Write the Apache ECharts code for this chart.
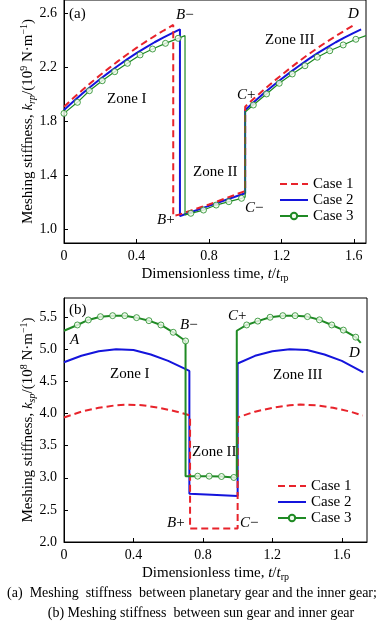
<!DOCTYPE html>
<html><head><meta charset="utf-8">
<script src="https://cdn.jsdelivr.net/npm/echarts@6/dist/echarts.min.js"></script>
<style>html,body{margin:0;padding:0;background:#fff}#c{width:384px;height:624px}</style>
</head><body><div id="c"></div>
<script>
// ---------- Panel (a): planetary gear / inner gear ----------
const aCase1T = [0,0.05,0.1,0.15,0.2,0.25,0.3,0.35,0.4,0.45,0.5,0.55,0.603, 0.603,0.64,0.7,0.8,0.9,1.0, 1.0,1.05,1.1,1.15,1.2,1.25,1.3,1.35,1.4,1.45,1.5,1.55,1.6];
const aCase1V = [1.910,1.972,2.031,2.089,2.144,2.197,2.249,2.298,2.345,2.390,2.433,2.474,2.515, 1.100,1.112,1.140,1.185,1.235,1.285, 1.910,1.972,2.031,2.089,2.144,2.197,2.249,2.298,2.345,2.390,2.433,2.474,2.515];
const aCase2T = [0,0.05,0.1,0.15,0.2,0.25,0.3,0.35,0.4,0.45,0.5,0.55,0.6,0.64, 0.64,0.7,0.8,0.9,1.0, 1.0,1.05,1.1,1.15,1.2,1.25,1.3,1.35,1.4,1.45,1.5,1.55,1.6,1.64];
const aCase2V = [1.885,1.946,2.005,2.061,2.115,2.166,2.215,2.262,2.306,2.347,2.387,2.423,2.457,2.483, 1.100,1.128,1.175,1.222,1.268, 1.885,1.946,2.005,2.061,2.115,2.166,2.215,2.262,2.306,2.347,2.387,2.423,2.457,2.483];
const aCase3T = [0,0.074,0.14,0.211,0.28,0.35,0.42,0.489,0.56,0.63,0.668, 0.668,0.70,0.77,0.84,0.91,0.98,1.0, 1.0,1.045,1.118,1.188,1.26,1.33,1.398,1.467,1.541,1.611,1.667];
const aCase3V = [1.860,1.942,2.028,2.102,2.169,2.231,2.293,2.337,2.379,2.416,2.436, 1.108,1.120,1.144,1.181,1.206,1.231,1.240, 1.870,1.922,2.004,2.083,2.152,2.213,2.276,2.324,2.367,2.409,2.436];
const aCase3MarkT = [0,0.074,0.14,0.211,0.28,0.35,0.42,0.489,0.56,0.63, 0.70,0.77,0.84,0.91,0.98, 1.045,1.118,1.188,1.26,1.33,1.398,1.467,1.541,1.611];
const aCase3MarkV = [1.860,1.942,2.028,2.102,2.169,2.231,2.293,2.337,2.379,2.416, 1.120,1.144,1.181,1.206,1.231, 1.922,2.004,2.083,2.152,2.213,2.276,2.324,2.367,2.409];
const aXTicks = [0,0.4,0.8,1.2,1.6];
const aYTicks = [1.0,1.4,1.8,2.2,2.6];

// ---------- Panel (b): sun gear / inner gear ----------
const bCase1T = [0,0.1,0.2,0.3,0.36,0.45,0.55,0.65,0.726, 0.726,1.0, 1.0,1.1,1.2,1.3,1.36,1.45,1.55,1.65,1.72];
const bCase1V = [3.94,4.03,4.09,4.13,4.14,4.13,4.09,4.03,3.97, 2.21,2.21, 3.94,4.03,4.09,4.13,4.14,4.13,4.09,4.03,3.97];
const bCase2T = [0,0.1,0.2,0.3,0.4,0.5,0.6,0.722, 0.722,0.85,1.0, 1.0,1.1,1.2,1.3,1.4,1.5,1.6,1.724];
const bCase2V = [4.80,4.90,4.97,5.00,4.99,4.92,4.82,4.665, 2.75,2.735,2.715, 4.78,4.90,4.97,5.00,4.99,4.92,4.82,4.64];
const bCase3T = [0,0.077,0.14,0.21,0.28,0.35,0.418,0.489,0.558,0.629,0.70, 0.70,0.77,0.836,0.907,0.978,0.995, 0.995,1.052,1.116,1.187,1.26,1.331,1.402,1.471,1.542,1.609,1.68,1.709];
const bCase3V = [5.29,5.38,5.458,5.509,5.525,5.525,5.494,5.447,5.38,5.266,5.131, 3.025,3.025,3.025,3.02,3.005,3.0, 5.29,5.38,5.44,5.50,5.525,5.525,5.51,5.46,5.38,5.30,5.19,5.10];
const bCase3MarkT = [0.077,0.14,0.21,0.28,0.35,0.418,0.489,0.558,0.629,0.70, 0.77,0.836,0.907,0.978, 1.052,1.116,1.187,1.26,1.331,1.402,1.471,1.542,1.609,1.68];
const bCase3MarkV = [5.38,5.458,5.509,5.525,5.525,5.494,5.447,5.38,5.266,5.131, 3.025,3.025,3.02,3.005, 5.38,5.44,5.50,5.525,5.525,5.51,5.46,5.38,5.30,5.19];
const bXTicks = [0,0.4,0.8,1.2,1.6];
const bYTicks = [2.0,2.5,3.0,3.5,4.0,4.5,5.0,5.5];

const caseNames = ['Case 1','Case 2','Case 3'];

// ---------- styling ----------
const F = 'Liberation Serif';
const RED = '#e8232b', BLUE = '#1414dc', GREEN = '#1f8a24', MFILL = '#f2fbef';
const pts = (T, V) => T.map((t, i) => [t, V[i]]);
const fmtX = v => v === 0 ? '0' : v.toFixed(1);
const fmtY = v => v.toFixed(1);
const rich = {
  i:   {fontFamily: F, fontSize: 15, fontStyle: 'italic', color: '#000', lineHeight: 18},
  sub: {fontFamily: F, fontSize: 10, color: '#000', lineHeight: 10, verticalAlign: 'bottom'},
  isub:{fontFamily: F, fontSize: 10, fontStyle: 'italic', color: '#000', lineHeight: 10, verticalAlign: 'bottom'},
  sup: {fontFamily: F, fontSize: 10, color: '#000', lineHeight: 10, verticalAlign: 'top'},
  n:   {fontFamily: F, fontSize: 15, color: '#000', lineHeight: 18}
};
const nameStyle = {fontFamily: F, fontSize: 15, color: '#000', lineHeight: 18, rich: rich};

function xAxis(gi, max, ticks) {
  return {
    gridIndex: gi, type: 'value', min: 0, max: max,
    axisLine: {show: true, lineStyle: {color: '#000', width: 1}},
    axisTick: {show: true, inside: true, length: 4, customValues: ticks, lineStyle: {color: '#000'}},
    axisLabel: {customValues: ticks, formatter: fmtX, margin: 6, color: '#000', fontFamily: F, fontSize: 14},
    splitLine: {show: false},
    name: 'Dimensionless time, {i|t}/{i|t}{sub|rp}', nameLocation: 'middle', nameGap: 22, nameMoveOverlap: false,
    nameTextStyle: nameStyle
  };
}
function yAxis(gi, min, max, ticks, name) {
  return {
    gridIndex: gi, type: 'value', min: min, max: max,
    axisLine: {show: true, lineStyle: {color: '#000', width: 1}},
    axisTick: {show: true, inside: true, length: 4, customValues: ticks, lineStyle: {color: '#000'}},
    axisLabel: {customValues: ticks, formatter: fmtY, margin: 7, color: '#000', fontFamily: F, fontSize: 14},
    splitLine: {show: false},
    name: name, nameLocation: 'middle', nameRotate: 90, nameGap: 27, nameMoveOverlap: false,
    nameTextStyle: nameStyle
  };
}
function red(gi, T, V) {
  return {name: 'Case 1', type: 'line', xAxisIndex: gi, yAxisIndex: gi, data: pts(T, V), symbol: 'none',
    lineStyle: {color: RED, width: 2, type: [7, 4]}, itemStyle: {color: RED}, z: 3};
}
function blue(gi, T, V) {
  return {name: 'Case 2', type: 'line', xAxisIndex: gi, yAxisIndex: gi, data: pts(T, V), symbol: 'none',
    lineStyle: {color: BLUE, width: 2}, itemStyle: {color: BLUE}, z: 2};
}
function green(gi, T, V, w) {
  return {name: 'Case 3', type: 'line', xAxisIndex: gi, yAxisIndex: gi, data: pts(T, V),
    symbol: 'circle', symbolSize: 6, showSymbol: false,
    lineStyle: {color: GREEN, width: w}, itemStyle: {color: MFILL, borderColor: GREEN, borderWidth: 1}, z: 4};
}
function marks(gi, T, V) {
  return {name: 'Case 3 markers', type: 'scatter', xAxisIndex: gi, yAxisIndex: gi, data: pts(T, V),
    symbol: 'circle', symbolSize: 6, itemStyle: {color: MFILL, borderColor: GREEN, borderWidth: 1}, z: 5};
}
const noSym = {color: 'rgba(0,0,0,0)', borderColor: 'rgba(0,0,0,0)', borderWidth: 0, opacity: 0};
function legend(left, top) {
  return {
    data: [{name: caseNames[0], itemStyle: noSym}, {name: caseNames[1], itemStyle: noSym}, {name: caseNames[2]}],
    left: left, top: top, orient: 'vertical', padding: 0, itemGap: 0,
    itemWidth: 28, itemHeight: 8, selectedMode: false,
    textStyle: {fontFamily: F, fontSize: 15, color: '#000', lineHeight: 16}};
}
function lab(text, x, y, align) {
  return {type: 'text', x: x, y: y, silent: true,
    style: {text: text, rich: rich, fontFamily: F, fontSize: 15, fill: '#000',
      align: align || 'left', verticalAlign: 'middle', textAlign: align || 'left', textVerticalAlign: 'middle'}};
}

const chart = echarts.init(document.getElementById('c'), null, {renderer: 'canvas'});
chart.setOption({
  animation: false,
  backgroundColor: '#fff',
  grid: [
    {left: 64, top: -1, width: 302, height: 244, show: true, borderColor: '#000', borderWidth: 1, backgroundColor: 'transparent'},
    {left: 64, top: 298, width: 303, height: 244, show: true, borderColor: '#000', borderWidth: 1, backgroundColor: 'transparent'}
  ],
  xAxis: [xAxis(0, 1.667, aXTicks), xAxis(1, 1.745, bXTicks)],
  yAxis: [
    yAxis(0, 0.9, 2.7, aYTicks, 'Meshing stiffness, {i|k}{isub|rp}/(10{sup|9} N·m{sup|−1})'),
    yAxis(1, 2.0, 5.8, bYTicks, 'Meshing stiffness, {i|k}{isub|sp}/(10{sup|8} N·m{sup|−1})')
  ],
  legend: [legend(279, 176), legend(277, 478)],
  series: [
    blue(0, aCase2T, aCase2V), red(0, aCase1T, aCase1V), green(0, aCase3T, aCase3V, 1.2), marks(0, aCase3MarkT, aCase3MarkV),
    blue(1, bCase2T, bCase2V), red(1, bCase1T, bCase1V), green(1, bCase3T, bCase3V, 2), marks(1, bCase3MarkT, bCase3MarkV)
  ],
  graphic: [
    lab('(a)', 69, 14), lab('{i|B}−', 176, 15), lab('{i|D}', 348, 14), lab('Zone III', 265, 40),
    lab('Zone I', 107, 99), lab('{i|C}+', 237, 95), lab('Zone II', 193, 172), lab('{i|B}+', 157, 220), lab('{i|C}−', 245, 208),
    lab('(b)', 69, 310), lab('{i|A}', 70, 340), lab('{i|B}−', 180, 325), lab('{i|C}+', 228, 316), lab('{i|D}', 349, 353),
    lab('Zone I', 110, 374), lab('Zone III', 273, 375), lab('Zone II', 192, 452), lab('{i|B}+', 167, 523), lab('{i|C}−', 240, 523),
    {type: 'text', x: 192, y: 593, silent: true, style: {text: '(a)  Meshing  stiffness  between planetary gear and the inner gear;', fontFamily: F, fontSize: 14, fill: '#000', align: 'center', verticalAlign: 'middle', textAlign: 'center', textVerticalAlign: 'middle'}},
    {type: 'text', x: 201, y: 613, silent: true, style: {text: '(b) Meshing stiffness  between sun gear and inner gear', fontFamily: F, fontSize: 14, fill: '#000', align: 'center', verticalAlign: 'middle', textAlign: 'center', textVerticalAlign: 'middle'}}
  ]
});
</script></body></html>
